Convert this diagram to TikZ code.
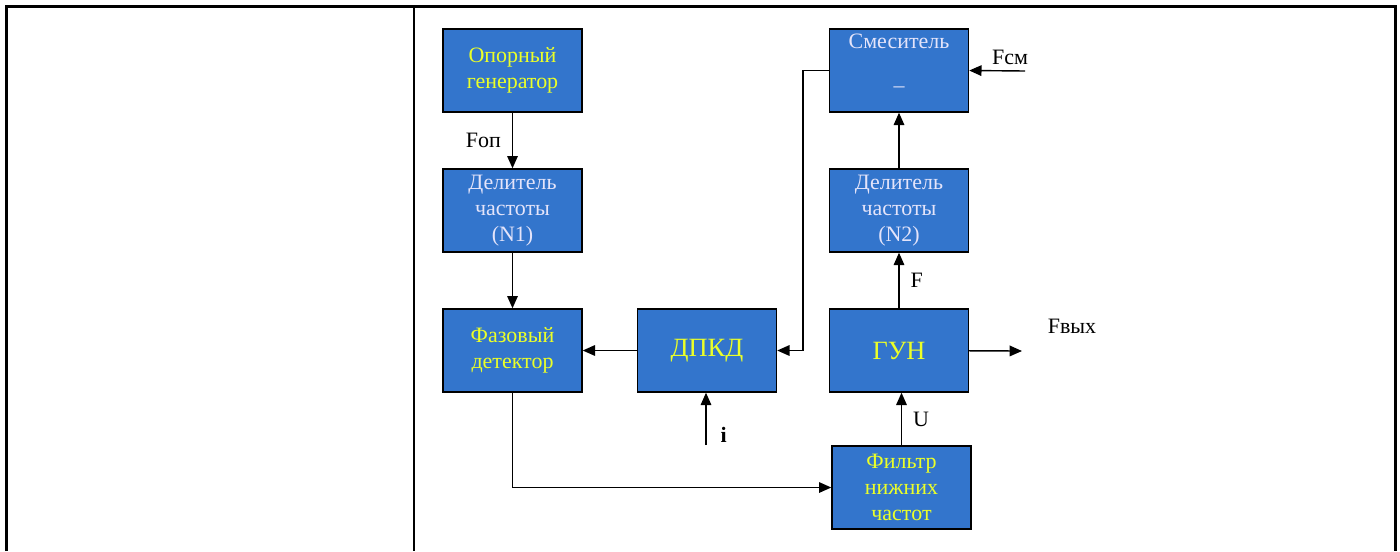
\documentclass[tikz,border=0pt]{standalone}
\usepackage{fontspec}
\setmainfont{Liberation Serif}
\usetikzlibrary{positioning,arrows.meta}
\definecolor{boxblue}{RGB}{51,117,204}
\definecolor{txtyellow}{RGB}{235,255,40}
\definecolor{txtwhite}{RGB}{228,228,250}

\begin{document}
\begin{tikzpicture}[node distance=2.8cm, >={Triangle[length=7pt,width=6pt]}, line width=0.8pt]

	% Styles
	\tikzstyle{block} = [draw, fill=boxblue, align=center, minimum width=2.78cm, minimum height=1.66cm, inner sep=1pt, font=\fontsize{12.5}{15}\selectfont];
	\tikzstyle{lbl} = [font=\fontsize{12.5}{15}\selectfont];
	\tikzstyle{frame} = [line width=1.5pt];

	% Frame
	\useasboundingbox (0,0) rectangle (28,-11.02);
	\draw[frame] (0.13,-11.02) -- (0.13,-0.13) -- (27.91,-0.13) -- (27.91,-11.02);
	\draw[frame] (8.28,-0.13) -- (8.28,-11.02);

	% Nodes
	\node[block, text=txtyellow] (gen) at (10.25,-1.41)
	{Опорный\\генератор};

	\node[block, text=txtwhite, below of=gen] (div1)
	{Делитель\\частоты\\(N1)};

	\node[block, text=txtyellow, below of=div1] (phase)
	{Фазовый\\детектор};

	\node[block, text=txtyellow, node distance=3.89cm, right of=phase, font=\fontsize{15}{18}\selectfont] (dpkd)
	{ДПКД};

	\node[block, text=txtyellow, node distance=3.84cm, right of=dpkd, font=\fontsize{15}{18}\selectfont] (vco)
	{ГУН};

	\node[block, text=txtwhite, above of=vco] (div2)
	{Делитель\\частоты\\(N2)};

	\node[block, text=txtwhite, above of=div2, text depth=0.3cm] (mix)
	{Смеситель\\[10pt]–};

	\node[block, text=txtyellow, node distance=2.74cm, below of=vco, xshift=0.05cm] (lpf)
	{Фильтр\\нижних\\частот};

	\coordinate (fcm) at (20.5,-1.42);
	\coordinate (fout) at (20.44,-7.02);
	\coordinate (iin) at (14.12,-8.9);

	% Labels
	\node[lbl, anchor=base] (fcmlbl) at (20.2,-1.28) {Fсм};
	\node[lbl, anchor=base] (foutlbl) at (21.44,-6.66) {Fвых};
	\node[lbl, anchor=base west] (ilbl) at (14.28,-8.84) {\textbf{i}};

	% Arrows
	\draw[->] (gen) -- node[lbl, left, xshift=-0.1cm] {Fоп} (div1);
	\draw[->] (div1) -- (phase);
	\draw[->] (dpkd) -- (phase);
	\draw[->] (mix.west) -- ++(-0.52,0) |- (dpkd.east);
	\draw[->] (fcm) -- (mix.east);
	\draw[->] (div2) -- (mix);
	\draw[->] (vco) -- node[lbl, right, xshift=0.1cm] {F} (div2);
	\draw[->] (vco) -- (fout);
	\draw[->] (lpf.north) -- node[lbl, right, xshift=0.1cm] {U} (lpf.north |- vco.south);
	\draw[->] (phase) |- (lpf);
	\draw[->] (iin) -- (iin |- dpkd.south);

\end{tikzpicture}
\end{document}
